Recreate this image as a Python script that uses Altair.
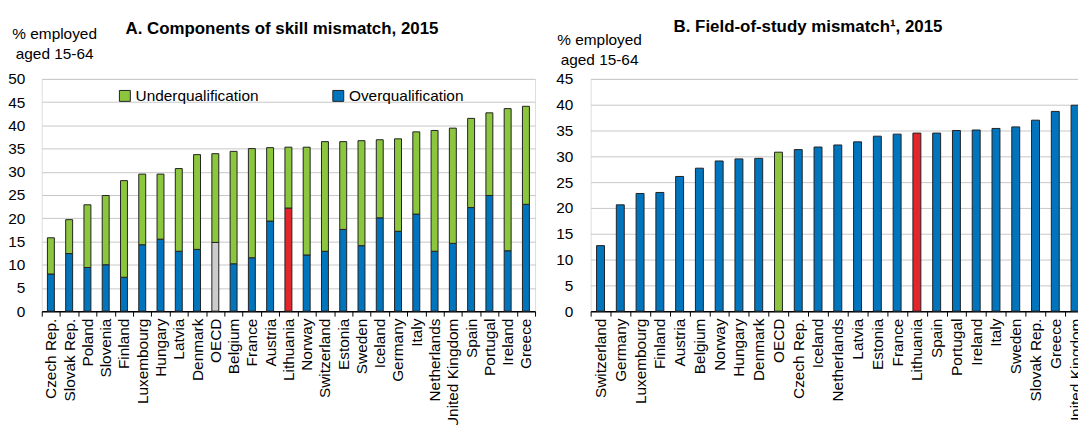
import altair as alt
import pandas as pd

FONT = "Liberation Sans"

# ---------------- Panel A data ----------------
countries_a = ["Czech Rep.", "Slovak Rep.", "Poland", "Slovenia", "Finland", "Luxembourg",
               "Hungary", "Latvia", "Denmark", "OECD", "Belgium", "France", "Austria",
               "Lithuania", "Norway", "Switzerland", "Estonia", "Sweden", "Iceland",
               "Germany", "Italy", "Netherlands", "United Kingdom", "Spain", "Portugal",
               "Ireland", "Greece"]
over_a = [8.0, 12.4, 9.4, 10.0, 7.3, 14.3, 15.5, 12.9, 13.3, 14.8, 10.2, 11.5, 19.4,
          22.2, 12.1, 12.9, 17.6, 14.1, 20.1, 17.2, 20.9, 12.9, 14.6, 22.3, 24.9, 13.0, 23.0]
under_a = [7.8, 7.3, 13.5, 14.9, 20.8, 15.2, 14.0, 17.8, 20.4, 19.1, 24.2, 23.5, 15.8,
           13.1, 23.2, 23.6, 18.9, 22.6, 16.8, 19.9, 17.7, 26.0, 24.8, 19.2, 17.8, 30.6, 21.1]

# ---------------- Panel B data ----------------
countries_b = ["Switzerland", "Germany", "Luxembourg", "Finland", "Austria", "Belgium",
               "Norway", "Hungary", "Denmark", "OECD", "Czech Rep.", "Iceland",
               "Netherlands", "Latvia", "Estonia", "France", "Lithuania", "Spain",
               "Portugal", "Ireland", "Italy", "Sweden", "Slovak Rep.", "Greece",
               "United Kingdom"]
field_b = [12.7, 20.6, 22.8, 23.0, 26.1, 27.7, 29.1, 29.5, 29.6, 30.8, 31.3, 31.8,
           32.2, 32.8, 33.9, 34.3, 34.5, 34.5, 35.0, 35.1, 35.4, 35.7, 37.0, 38.7, 39.9]

BLUE = "#0075be"
GREEN = "#8cc63f"
RED = "#e2262b"
GREY = "#cccccc"

legend_keys = ["Underqualification", "Overqualification"]

rows = []
for c, o, u in zip(countries_a, over_a, under_a):
    okey = "OECD" if c == "OECD" else ("Lithuania" if c == "Lithuania" else "Overqualification")
    rows.append({"country": c, "value": o, "key": okey, "ord": 0})
    rows.append({"country": c, "value": u, "key": "Underqualification", "ord": 1})
df_a = pd.DataFrame(rows)

df_b = pd.DataFrame({
    "country": countries_b,
    "value": field_b,
    "key": ["OECD" if c == "OECD" else ("Lithuania" if c == "Lithuania" else "Other")
            for c in countries_b],
})


def x_axis():
    return alt.Axis(title=None, labelAngle=270, labelAlign="right", labelBaseline="middle",
                    labelFontSize=15.5, labelColor="black", labelFont=FONT, labelPadding=2,
                    labelOverlap=False, labelLimit=300, tickBand="extent", ticks=True,
                    tickSize=5, tickColor="black", tickWidth=1, domainColor="black",
                    domainWidth=1.5, grid=False)


def y_axis(maxv, pad):
    return alt.Axis(title=None, values=list(range(0, maxv + 1, 5)), labelFontSize=15.5,
                    labelColor="black", labelFont=FONT, labelPadding=pad, domain=False,
                    ticks=False, grid=True, gridColor="#c8c8c8", gridWidth=1)


def text_layer(txt, x, y, size, weight="normal", line_height=20.5):
    return alt.Chart(pd.DataFrame({"t": [txt]})).mark_text(
        font=FONT, fontSize=size, fontWeight=weight, align="center",
        baseline="alphabetic", lineBreak="\n", lineHeight=line_height, color="black"
    ).encode(x=alt.value(x), y=alt.value(y), text="t:N")


bars_a = alt.Chart(df_a).mark_bar(width=7, stroke="#222222", strokeWidth=1).encode(
    x=alt.X("country:N", sort=countries_a,
            scale=alt.Scale(paddingInner=0, paddingOuter=0), axis=x_axis()),
    y=alt.Y("value:Q", stack="zero", scale=alt.Scale(domain=[0, 50], nice=False),
            axis=y_axis(50, 17)),
    color=alt.Color("key:N",
                    scale=alt.Scale(domain=["Underqualification", "Overqualification", "OECD", "Lithuania"],
                                    range=[GREEN, BLUE, GREY, RED]),
                    legend=alt.Legend(values=legend_keys, title=None, orient="none",
                                      direction="horizontal", legendX=76, legendY=9,
                                      symbolType="square", symbolSize=121,
                                      symbolStrokeColor="#222222", symbolStrokeWidth=1,
                                      symbolOpacity=1, labelFont=FONT, labelFontSize=15.5,
                                      labelColor="black", labelOffset=3, columnPadding=72,
                                      padding=0)),
    order=alt.Order("ord:Q", sort="ascending"),
)

panel_a = alt.layer(
    bars_a,
    text_layer("A. Components of skill mismatch, 2015", 242, -45.5, 17, "bold"),
    text_layer("% employed\naged 15-64", 13, -40.5, 15.5),
).properties(width=497, height=234)

bars_b = alt.Chart(df_b).mark_bar(width=8, stroke="#222222", strokeWidth=1).encode(
    x=alt.X("country:N", sort=countries_b,
            scale=alt.Scale(paddingInner=0, paddingOuter=0), axis=x_axis()),
    y=alt.Y("value:Q", scale=alt.Scale(domain=[0, 45], nice=False), axis=y_axis(45, 18)),
    color=alt.Color("key:N",
                    scale=alt.Scale(domain=["Other", "OECD", "Lithuania"],
                                    range=[BLUE, GREEN, RED]),
                    legend=None),
)

panel_b = alt.layer(
    bars_b,
    text_layer("B. Field-of-study mismatch\u00b9, 2015", 219, -47, 17, "bold"),
    text_layer("% employed\naged 15-64", 9, -34, 15.5),
).properties(width=498, height=234)

chart = alt.hconcat(panel_a, panel_b, spacing=19).resolve_scale(
    color="independent"
).properties(
    autosize=alt.AutoSizeParams(type="none"),
    padding={"left": 34, "top": 69, "right": 1044, "bottom": 348},
    background="white",
).configure_view(stroke=None).configure(font=FONT)

chart.save("out.html", embed_options={"renderer": "svg", "actions": False})
